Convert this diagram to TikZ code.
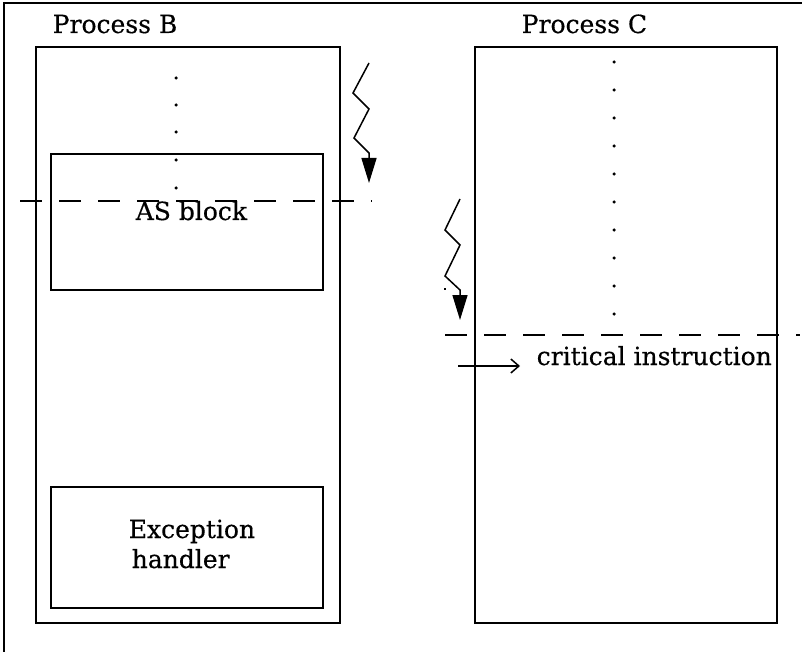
\documentclass[tikz,border=0pt]{standalone}
\usepackage{fontspec}
\setmainfont{DejaVu Serif}
\newfontfamily\labfont{DejaVu Serif}[FakeBold=0.4]
\usetikzlibrary{arrows.meta}
\begin{document}
\begin{tikzpicture}[x=1pt,y=-1pt,
  line width=1.5pt,
  box/.style={draw,line width=1.5pt},
  label/.style={font=\labfont\fontsize{25}{27}\selectfont,inner sep=0pt,anchor=base west},
  cut/.style={line width=1.5pt,dash pattern=on 22pt off 17pt},
  bolt/.style={line width=1.5pt,-{Triangle[length=25pt,width=15pt]}},
  tick/.style={fill,circle,inner sep=0pt,minimum size=3.5pt}]
\useasboundingbox (0,0) rectangle (802,652);
% outer frame (top and left edges only)
\draw (4,652) -- (4,3) -- (802,3);
% process B column
\draw[box] (36,47) rectangle (340,623);
\draw[box] (51,154) rectangle (323,290);
\draw[box] (51,487) rectangle (323,608);
\node[label] (pb) at (52,33) {Process B};
\node[label] (asb) at (135,220) {AS block};
\node[label] (exc1) at (128,538) {Exception};
\node[label] (exc2) at (131,568) {handler};
\foreach \y in {78,105,132,160,188} \node[tick] at (176,\y) {};
% process C column
\draw[box] (475,47) rectangle (777,623);
\node[label] (pc) at (521,33) {Process C};
\foreach \y in {62,90,118,146,174,202,230,258,286,314} \node[tick] at (614,\y) {};
\node[label] (crit) at (536,365) {critical instruction};
% cut lines
\draw[cut] (20,201) -- (372,201);
\draw[cut] (445,335) -- (800,335);
% interrupt bolts
\draw[bolt] (369,63) -- (353,93) -- (369,109) -- (354,138) -- (369,153) -- (369,183);
\draw[bolt] (460,199) -- (445,230) -- (460,245) -- (445,276) -- (460,290) -- (460,320);
\fill (444,288) rectangle (446,290);
% pointer to the critical instruction
\coordinate (ptr) at (458,366);
\draw[line width=1.5pt,-{Straight Barb[length=8pt,width=14pt]}] (ptr) -- (520,366);
\end{tikzpicture}
\end{document}
